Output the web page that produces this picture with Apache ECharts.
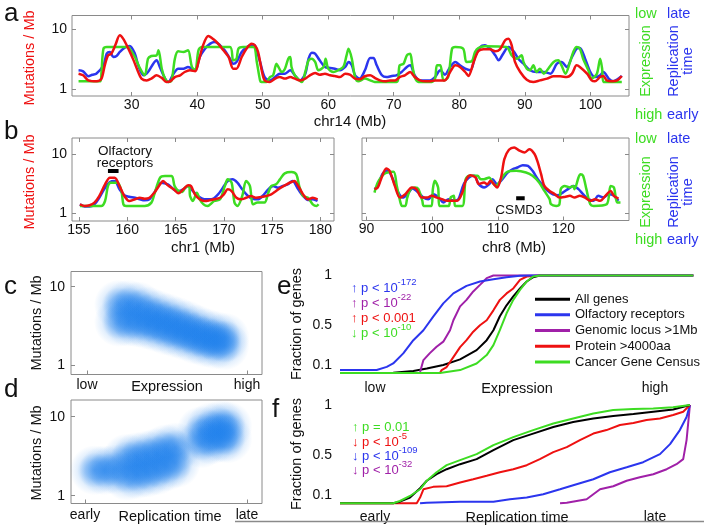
<!DOCTYPE html>
<html><head><meta charset="utf-8">
<script src="https://cdn.jsdelivr.net/npm/echarts@6/dist/echarts.min.js"></script>
<style>html,body{margin:0;padding:0;background:#fff}#c{width:704px;height:532px}</style>
</head><body><div id="c"></div><script>
// ---------------- DATA ----------------
// Panel a: chr14, position (Mb) vs mutations/Mb (expression and replication time drawn on the same scale)
const chr14Red = [[21.9,1.80],[22.6,1.69],[23.4,1.39],[24.7,1.34],[25.4,1.49],[25.9,2.48],[26.4,3.64],[26.9,3.88],[27.5,5.34],[28.2,7.84],[28.7,6.90],[29.5,4.70],[30.3,3.00],[31.0,1.92],[31.5,1.49],[32.3,1.39],[33.0,1.49],[33.8,1.69],[34.6,1.53],[35.3,1.31],[35.9,1.34],[36.6,1.58],[37.4,1.69],[38.1,1.92],[38.9,2.05],[39.7,1.97],[40.2,2.82],[40.9,5.34],[41.7,7.64],[42.5,6.73],[43.2,5.70],[44.0,4.41],[44.8,3.41],[45.5,2.18],[46.0,2.18],[46.8,3.41],[47.6,4.82],[48.3,5.70],[48.8,5.34],[49.3,4.14],[49.8,2.18],[50.3,1.39],[51.1,1.31],[51.9,1.49],[52.6,1.58],[53.4,1.49],[54.2,1.58],[54.9,1.49],[55.7,1.39],[56.5,1.49],[57.2,1.69],[58.0,1.85],[58.7,1.73],[59.5,1.80],[60.3,1.69],[61.0,1.65],[61.8,1.58],[62.6,1.80],[63.3,1.73],[64.1,1.49],[64.8,1.45],[65.6,1.63],[66.4,1.69],[67.1,1.53],[67.9,1.39],[68.7,1.34],[69.4,1.39],[70.2,1.39],[70.9,1.58],[71.7,1.69],[72.5,1.92],[73.2,1.58],[74.0,1.39],[74.8,1.34],[75.5,1.34],[76.3,1.39],[77.1,1.39],[77.8,1.39],[78.6,1.92],[79.4,2.48],[80.1,2.33],[80.9,1.92],[81.4,1.65],[82.2,2.82],[82.9,4.24],[83.7,4.58],[84.7,4.58],[85.5,4.24],[86.2,4.58],[87.0,6.47],[87.5,6.90],[88.0,5.34],[88.5,2.82],[89.3,1.92],[90.3,1.43],[91.3,1.31],[92.3,1.39],[93.4,1.49],[94.4,1.63],[95.4,1.63],[96.4,1.58],[97.2,1.80],[97.9,2.48],[98.4,2.33],[99.5,1.80],[100.2,1.39],[100.7,1.34],[101.5,1.58],[102.0,1.65],[102.5,1.39],[103.3,1.34],[104.1,1.39],[104.8,1.65]];
const chr14Blue = [[21.9,2.05],[22.6,1.97],[23.4,1.63],[24.0,1.73],[24.6,1.80],[25.7,2.48],[26.2,3.88],[26.7,4.14],[27.2,3.41],[27.7,3.55],[28.2,4.14],[29.0,4.94],[29.7,5.21],[30.5,3.88],[31.0,2.48],[31.8,1.69],[32.5,1.92],[33.3,2.64],[33.8,3.00],[34.3,2.33],[35.1,1.49],[35.6,1.31],[36.4,1.80],[37.1,2.18],[37.9,2.18],[38.6,2.33],[39.7,2.05],[40.4,3.41],[41.2,4.70],[42.0,5.70],[42.7,6.07],[43.5,5.34],[44.2,4.41],[45.0,3.20],[45.5,2.64],[46.0,2.82],[46.8,4.14],[47.6,5.01],[48.3,5.48],[48.8,5.34],[49.6,2.82],[50.3,1.58],[51.1,1.39],[51.9,1.58],[52.6,1.80],[53.4,1.80],[54.2,2.05],[54.9,1.69],[55.7,1.39],[56.5,1.80],[57.0,3.20],[57.5,4.03],[58.0,3.88],[58.7,3.00],[59.5,2.33],[60.3,2.24],[61.0,2.18],[61.8,2.05],[62.6,2.33],[63.1,2.82],[63.6,2.48],[64.1,1.69],[64.8,1.49],[65.6,2.05],[66.4,3.29],[66.9,3.29],[67.4,2.48],[68.2,1.69],[68.9,1.58],[69.7,1.65],[70.4,1.69],[71.2,1.92],[72.0,2.33],[72.5,2.48],[73.2,1.69],[74.0,1.39],[74.8,1.39],[75.5,1.39],[76.3,1.58],[77.1,2.05],[77.8,1.73],[78.6,2.33],[79.4,2.82],[80.1,2.48],[80.9,2.18],[81.7,2.05],[82.4,3.41],[83.2,5.01],[83.9,5.34],[84.7,4.70],[85.5,3.64],[86.0,3.00],[86.7,3.88],[87.5,5.01],[88.3,4.24],[89.0,3.20],[89.8,2.64],[90.8,2.05],[91.8,1.92],[92.9,1.92],[93.9,1.80],[94.9,2.64],[95.6,2.82],[96.4,2.33],[97.2,3.41],[97.9,4.70],[98.4,4.82],[99.2,3.20],[100.0,1.92],[100.7,1.58],[101.5,1.69],[102.0,1.92],[102.8,1.49],[103.5,1.34],[104.3,1.49],[104.8,1.65]];
const chr14Green = [[21.9,1.34],[25.2,1.34],[25.4,1.92],[25.7,4.70],[26.2,5.01],[28.7,5.01],[29.5,5.01],[29.7,4.70],[30.5,3.41],[31.3,2.18],[32.0,1.69],[32.5,3.20],[33.0,3.55],[33.8,3.64],[34.1,4.41],[34.6,2.18],[35.1,1.49],[35.6,1.31],[36.1,1.39],[36.6,3.20],[37.1,4.24],[37.9,4.14],[38.6,4.41],[39.2,2.33],[39.7,2.05],[40.2,4.41],[40.7,5.01],[45.0,5.01],[45.5,3.00],[46.0,3.20],[46.3,4.70],[47.0,5.01],[48.6,5.01],[49.1,2.82],[49.6,1.39],[49.8,1.31],[50.6,1.31],[51.1,1.58],[51.6,1.69],[52.1,2.64],[52.4,2.33],[52.9,1.92],[53.4,2.18],[53.9,3.20],[54.2,3.41],[54.4,2.33],[54.9,1.69],[56.0,1.31],[56.5,1.92],[57.0,3.00],[57.5,3.20],[58.0,2.82],[58.5,2.05],[59.3,2.33],[59.6,3.20],[60.0,2.18],[60.8,1.92],[61.5,2.05],[62.3,2.33],[62.8,3.64],[63.1,4.70],[63.6,3.20],[64.1,1.58],[64.6,1.34],[65.6,1.49],[66.4,1.39],[67.1,1.31],[70.4,1.31],[70.9,2.48],[71.5,2.64],[72.0,3.64],[72.5,3.88],[72.8,2.64],[73.2,1.58],[73.8,1.31],[75.8,1.31],[76.3,1.49],[76.6,2.48],[77.1,2.48],[77.6,1.39],[78.3,1.58],[78.9,4.70],[79.4,5.01],[80.6,4.70],[81.1,2.82],[81.9,2.89],[82.4,4.14],[82.9,4.82],[83.9,5.14],[87.2,5.01],[88.0,3.64],[88.8,3.20],[89.5,3.64],[89.8,2.82],[90.3,2.18],[90.8,2.05],[91.3,2.48],[91.8,1.92],[92.3,2.18],[92.9,1.80],[93.4,2.05],[94.4,2.82],[95.1,3.00],[95.6,2.48],[96.2,1.80],[96.9,2.82],[97.4,4.14],[97.9,5.01],[98.4,4.70],[98.9,3.20],[99.7,2.05],[100.2,1.49],[101.0,1.80],[101.5,3.20],[101.8,2.18],[102.0,1.31],[104.8,1.31]];
// Panel b left: chr1
const chr1Red = [[155.1,1.43],[155.6,1.34],[156.1,1.38],[156.6,1.53],[157.1,1.98],[157.7,3.12],[158.2,4.05],[158.7,4.05],[159.2,2.92],[159.7,1.98],[160.2,1.63],[160.8,1.74],[161.3,1.85],[161.8,1.78],[162.3,1.85],[162.8,2.25],[163.4,3.12],[163.7,3.56],[164.2,3.00],[164.8,2.57],[165.3,2.20],[165.8,2.57],[166.3,3.00],[166.6,2.92],[167.0,2.11],[167.5,1.74],[168.0,1.63],[168.5,1.67],[169.0,1.74],[169.6,1.85],[170.0,2.11],[170.4,2.57],[170.8,2.40],[171.3,1.85],[171.8,1.74],[172.3,1.85],[172.8,1.98],[173.3,1.85],[173.9,1.90],[174.4,1.98],[174.9,2.11],[175.4,2.40],[175.9,2.74],[176.5,3.12],[177.0,3.42],[177.3,3.56],[177.7,2.92],[178.2,2.11],[178.7,1.74],[179.2,1.85],[179.7,1.74]];
const chr1Blue = [[155.1,1.43],[155.6,1.31],[156.1,1.31],[156.6,1.43],[157.1,1.85],[157.7,2.74],[158.2,3.42],[158.7,3.56],[159.2,2.57],[159.7,2.03],[160.2,1.93],[160.8,1.85],[161.3,1.74],[161.8,1.67],[162.3,1.74],[162.8,2.25],[163.5,3.33],[164.2,3.12],[164.8,2.57],[165.3,2.40],[165.8,2.57],[166.3,2.92],[166.8,2.40],[167.3,1.98],[168.0,1.74],[168.7,1.74],[169.4,2.11],[169.9,2.74],[170.4,3.56],[170.9,3.79],[171.4,3.33],[171.9,2.57],[172.5,1.98],[173.0,1.78],[173.5,1.74],[174.0,1.98],[174.6,2.57],[175.1,2.92],[175.6,2.74],[176.1,2.92],[176.6,3.12],[177.1,3.56],[177.7,2.57],[178.2,1.98],[178.7,1.69],[179.2,1.74],[179.7,1.63]];
const chr1Green = [[155.1,1.34],[157.3,1.34],[157.7,1.63],[158.0,2.92],[158.3,3.33],[159.0,3.33],[159.4,2.40],[159.6,1.43],[159.9,1.34],[161.8,1.34],[162.5,1.53],[162.8,2.11],[163.4,4.05],[163.9,4.32],[164.6,4.32],[164.9,2.92],[165.3,2.40],[165.7,2.31],[166.0,2.74],[166.4,2.92],[166.5,1.98],[166.8,1.63],[167.2,2.25],[167.5,1.74],[167.9,1.43],[168.3,1.34],[169.0,1.63],[169.6,1.74],[170.1,2.92],[170.4,3.79],[170.8,3.33],[171.1,1.53],[171.4,1.34],[171.9,1.98],[172.3,3.56],[172.7,2.92],[173.0,1.43],[173.5,1.53],[174.2,1.53],[174.6,2.25],[174.9,2.92],[175.4,3.12],[175.8,3.79],[176.3,4.80],[177.0,5.05],[177.5,4.61],[177.8,2.92],[178.2,1.98],[178.7,1.85],[179.2,1.43],[179.6,1.34],[179.8,1.43]];
// Panel b right: chr8
const chr8Red = [[91.2,2.57],[91.7,2.74],[92.2,3.79],[93.0,5.75],[93.5,5.25],[94.3,2.92],[95.1,1.85],[95.9,2.11],[96.9,2.74],[97.6,2.57],[98.4,1.85],[99.2,1.85],[99.9,1.98],[100.7,1.85],[101.5,1.74],[102.3,1.63],[103.0,1.63],[103.8,1.63],[104.6,2.25],[105.1,3.56],[105.8,4.43],[106.6,4.05],[107.1,3.12],[107.9,3.33],[108.4,3.12],[108.9,3.56],[109.4,3.12],[109.9,2.74],[110.5,4.05],[111.0,8.28],[111.7,11.9],[112.5,13.05],[113.3,11.5],[114.1,10.7],[114.8,12.2],[115.6,10.1],[116.1,7.27],[116.6,4.61],[117.1,2.92],[117.9,2.40],[118.7,2.11],[119.4,1.85],[120.2,1.90],[121.0,1.98],[121.7,1.85],[122.5,1.98],[123.3,1.85],[124.1,1.63],[124.8,1.74],[125.6,1.63],[126.4,1.98],[127.2,2.40],[127.7,1.98],[128.4,1.78]];
const chr8Blue = [[91.2,2.57],[91.7,2.92],[92.4,4.61],[93.2,5.25],[93.9,4.05],[94.7,2.40],[95.5,1.85],[96.2,2.11],[97.0,2.64],[97.9,2.25],[98.7,1.85],[99.4,1.74],[100.2,2.11],[101.0,1.85],[101.7,1.53],[102.5,1.74],[103.3,1.63],[104.0,1.74],[104.8,3.12],[105.6,4.05],[106.4,4.32],[107.1,3.12],[107.9,2.74],[108.7,3.12],[109.2,3.79],[109.9,3.12],[110.7,3.79],[111.5,4.92],[112.3,5.60],[113.0,5.98],[113.8,6.55],[114.6,6.38],[115.3,5.25],[116.1,3.79],[116.9,2.92],[117.6,2.40],[118.4,2.11],[119.2,2.03],[119.9,2.25],[120.7,2.57],[121.5,2.92],[122.3,2.57],[123.0,2.11],[123.8,1.74],[124.6,1.63],[125.3,1.98],[126.1,1.85],[126.9,2.11],[127.6,2.03],[128.4,1.63]];
const chr8Green = [[91.2,2.25],[91.7,3.33],[92.4,4.32],[92.9,4.80],[94.1,5.05],[94.6,2.92],[95.1,1.63],[95.4,1.34],[95.9,1.34],[96.2,1.85],[96.7,2.57],[97.4,2.74],[97.9,2.57],[98.5,1.63],[98.7,1.34],[99.9,1.34],[100.1,2.57],[100.4,3.56],[100.9,2.74],[101.1,1.34],[102.5,1.34],[102.8,1.85],[103.3,1.98],[103.5,1.34],[104.6,1.34],[105.1,3.79],[105.6,4.32],[106.9,4.32],[107.4,3.79],[107.9,3.79],[108.7,4.05],[109.2,3.33],[109.7,2.92],[110.2,3.33],[111.3,4.92],[112.8,5.25],[114.3,4.92],[115.3,4.32],[116.3,3.33],[117.1,2.40],[117.9,1.74],[118.1,1.43],[118.9,1.34],[119.4,1.43],[119.6,2.57],[120.2,2.92],[121.0,2.74],[121.5,2.92],[121.7,2.57],[122.3,4.05],[122.6,4.61],[123.0,4.32],[123.5,2.57],[124.1,1.43],[124.6,1.34],[126.6,1.43],[127.2,2.92],[127.7,2.74],[128.2,1.53],[128.7,1.53]];
const olfactoryBar = [158.0, 159.1];
const csmd3Bar = [112.8, 114.1];
const chr14Ticks = [30,40,50,60,70,80,90,100];
const chr1Ticks = [155,160,165,170,175,180];
const chr8Ticks = [90,100,110,120];
// Panels c, d: density ridges (relative rank 0=low/early .. 1=high/late, mutations/Mb)
const exprDensity = [[0.20,5.9],[0.26,5.9],[0.32,5.6],[0.38,4.84],[0.44,4.37],[0.50,3.98],[0.56,3.59],[0.62,3.24],[0.68,2.85],[0.74,2.57],[0.80,2.37],[0.86,2.24],
  [0.20,3.55],[0.26,3.55],[0.32,3.47],[0.38,3.27],[0.44,3.02],[0.50,2.75],[0.56,2.54],[0.62,2.34],[0.68,2.11],[0.74,1.95],[0.80,1.84],[0.86,1.78]];
const repDensity = [[0.06,2.1],[0.12,2.1],[0.18,2.15],
  [0.26,2.95],[0.32,3.09],[0.38,3.24],[0.44,3.47],[0.50,3.89],[0.56,4.1],
  [0.26,1.78],[0.32,1.87],[0.38,1.95],[0.44,2.09],[0.50,2.34],[0.56,2.57],
  [0.72,6.6],[0.78,7.4],[0.84,7.8],[0.88,7.6],
  [0.72,4.6],[0.78,5.1],[0.84,5.4],[0.88,5.3]];
// Panel e: cumulative fraction of genes vs expression rank
const exprAll = [[-0.125,0.02],[0.065,0.022],[0.137,0.04],[0.185,0.066],[0.244,0.10],[0.304,0.157],[0.363,0.25],[0.399,0.35],[0.423,0.45],[0.446,0.59],[0.470,0.70],[0.494,0.79],[0.518,0.87],[0.542,0.94],[0.565,0.983],[0.589,1.0],[1.137,1.0]];
const exprOlf = [[-0.125,0.05],[0.006,0.05],[0.042,0.082],[0.065,0.116],[0.101,0.217],[0.137,0.35],[0.173,0.45],[0.208,0.587],[0.244,0.72],[0.280,0.82],[0.327,0.896],[0.375,0.94],[0.423,0.963],[0.470,0.983],[0.518,0.997],[0.565,1.0],[1.137,1.0]];
const exprLocus = [[0.161,0.03],[0.161,0.05],[0.173,0.15],[0.196,0.22],[0.220,0.284],[0.244,0.335],[0.268,0.45],[0.280,0.55],[0.304,0.69],[0.327,0.755],[0.351,0.84],[0.375,0.906],[0.399,0.973],[0.423,1.0],[1.137,1.0]];
const exprProt = [[-0.125,0.02],[0.232,0.02],[0.238,0.049],[0.256,0.08],[0.280,0.18],[0.304,0.28],[0.327,0.35],[0.351,0.435],[0.375,0.50],[0.399,0.55],[0.423,0.65],[0.446,0.755],[0.470,0.82],[0.494,0.87],[0.518,0.956],[0.542,0.99],[0.589,1.0],[1.137,1.0]];
const exprCGC = [[-0.125,0.02],[0.232,0.02],[0.304,0.049],[0.363,0.116],[0.399,0.20],[0.423,0.30],[0.446,0.45],[0.470,0.62],[0.494,0.755],[0.518,0.855],[0.542,0.94],[0.565,0.99],[0.589,1.0],[1.137,1.0]];
// Panel f: cumulative fraction of genes vs replication time
const repAll = [[-0.125,0.02],[0.065,0.02],[0.089,0.036],[0.125,0.077],[0.161,0.17],[0.185,0.245],[0.220,0.31],[0.256,0.36],[0.304,0.41],[0.363,0.46],[0.423,0.55],[0.494,0.65],[0.565,0.715],[0.637,0.78],[0.708,0.83],[0.780,0.866],[0.851,0.89],[0.923,0.91],[0.994,0.933],[1.065,0.956],[1.125,1.0]];
const repOlf = [[0.161,0.02],[0.185,0.026],[0.304,0.036],[0.423,0.036],[0.482,0.06],[0.542,0.077],[0.601,0.11],[0.661,0.16],[0.720,0.21],[0.780,0.26],[0.839,0.33],[0.899,0.38],[0.958,0.43],[1.018,0.51],[1.054,0.61],[1.089,0.75],[1.113,0.88],[1.125,1.0]];
const repLocus = [[0.661,0.02],[0.685,0.026],[0.756,0.06],[0.780,0.11],[0.804,0.16],[0.851,0.19],[0.899,0.245],[0.946,0.28],[0.994,0.31],[1.042,0.36],[1.077,0.41],[1.101,0.46],[1.113,0.65],[1.125,1.0]];
const repProt = [[-0.125,0.02],[0.149,0.02],[0.161,0.077],[0.173,0.16],[0.208,0.184],[0.256,0.19],[0.304,0.228],[0.351,0.26],[0.399,0.295],[0.446,0.33],[0.494,0.36],[0.542,0.40],[0.589,0.46],[0.637,0.53],[0.685,0.58],[0.732,0.65],[0.780,0.715],[0.827,0.75],[0.875,0.80],[0.923,0.82],[0.970,0.85],[1.018,0.866],[1.065,0.90],[1.101,0.933],[1.125,1.0]];
const repCGC = [[-0.125,0.02],[0.065,0.02],[0.089,0.043],[0.125,0.093],[0.161,0.16],[0.185,0.245],[0.220,0.33],[0.256,0.40],[0.304,0.45],[0.363,0.51],[0.423,0.60],[0.494,0.68],[0.565,0.75],[0.637,0.815],[0.708,0.866],[0.780,0.916],[0.851,0.95],[0.923,0.96],[0.994,0.966],[1.065,0.977],[1.125,1.0]];
const fracTicks = [0.1, 0.5, 1];
const legendNames = ['All genes','Olfactory receptors','Genomic locus >1Mb','Protein >4000aa','Cancer Gene Census'];

// ---------------- CHART ----------------
const FONT = "'Liberation Sans', Arial, Helvetica, sans-serif";
const C = {red:'#ee1111', blue:'#2b35ee', green:'#3ddc22', black:'#000000', purple:'#a020a8', frame:'#8a8a8a'};
const lg = arr => arr.map(p => [p[0], Math.log10(p[1])]);
const chart = echarts.init(document.getElementById('c'));

const tickStyle = vals => ({show:true, inside:true, length:4, customValues:vals, lineStyle:{color:C.frame, width:1}});
const lbl = (vals, margin, fmt) => ({show:true, customValues:vals, margin:margin, fontSize:14, color:'#111', fontFamily:FONT, formatter:fmt});
function ax(grid, min, max, pos, ticks, labels, margin, fmt) {
  return {gridIndex:grid, type:'value', position:pos, min:min, max:max,
    axisLine:{show:false, onZero:false}, splitLine:{show:false},
    axisTick: ticks ? tickStyle(ticks) : {show:false},
    axisLabel: labels ? lbl(labels, margin, fmt) : {show:false}};
}
const logFmt = v => (Math.abs(v) < 1e-9 ? '1' : '10');
const lowHigh = v => (v < 0.5 ? 'low' : 'high');
const earlyLate = v => (v < 0.5 ? 'early' : 'late');

const frameGrid = (l,t,w,h) => ({left:l, top:t, width:w, height:h, show:true, borderColor:C.frame, borderWidth:1, backgroundColor:'transparent'});
const grids = [
  frameGrid(72, 15.5, 557, 80.5),   // a
  frameGrid(72, 138, 262, 83),      // b left
  frameGrid(362, 138, 267, 82.5),   // b right
  frameGrid(71, 271.5, 191, 103),   // c
  frameGrid(71, 400, 191, 103.5),   // d
  {left:340, top:275.5, width:353, height:97.5, show:false}, // e
  {left:340, top:405, width:353, height:98.3, show:false}     // f
];

const xAxes = [
  ax(0, 20.9, 105.9, 'bottom', chr14Ticks, chr14Ticks, 2),
  ax(0, 20.9, 105.9, 'top', chr14Ticks, null),
  ax(1, 154.28, 181.4, 'bottom', chr1Ticks, chr1Ticks, 2),
  ax(1, 154.28, 181.4, 'top', chr1Ticks, null),
  ax(2, 89.3, 130.0, 'bottom', chr8Ticks, chr8Ticks, 2),
  ax(2, 89.3, 130.0, 'top', chr8Ticks, null),
  ax(3, -0.1, 1.094, 'bottom', [0,1], [0,1], 4, lowHigh),
  ax(4, -0.0864, 1.093, 'bottom', [0,1], [0,1], 5, earlyLate),
  ax(5, -0.125, 1.136, 'bottom', null, [0,1], 8, lowHigh),
  ax(6, -0.125, 1.136, 'bottom', null, [0,1], 7, earlyLate)
];
const yAxes = [
  ax(0, -0.117, 1.225, 'left', [0,1], [0,1], 5, logFmt),
  ax(0, -0.117, 1.225, 'right', [0,1], null),
  ax(1, -0.127, 1.28, 'left', [0,1], [0,1], 5, logFmt),
  ax(1, -0.127, 1.28, 'right', [0,1], null),
  ax(2, -0.12, 1.275, 'left', [0,1], null),
  ax(2, -0.12, 1.275, 'right', [0,1], null),
  ax(3, -0.121, 1.194, 'left', [0,1], [0,1], 6, logFmt),
  ax(4, -0.099, 1.211, 'left', [0,1], [0,1], 6, logFmt),
  ax(5, 0.02, 1.0, 'left', null, fracTicks, 8, v => String(v)),
  ax(6, 0.02, 1.0, 'left', null, fracTicks, 8, v => String(v))
];

const series = [];
function track(xi, yi, red, blue, green) {
  [[blue, C.blue],[green, C.green],[red, C.red]].forEach(([d, col]) => {
    series.push({type:'line', xAxisIndex:xi, yAxisIndex:yi, data:lg(d), showSymbol:false, smooth:0.3,
      lineStyle:{color:col, width:2.5}, itemStyle:{color:col}, silent:true});
  });
}
track(0, 0, chr14Red, chr14Blue, chr14Green);
track(2, 2, chr1Red, chr1Blue, chr1Green);
track(4, 4, chr8Red, chr8Blue, chr8Green);
series.push({type:'line', xAxisIndex:2, yAxisIndex:2, data:olfactoryBar.map(x => [x, Math.log10(5.25)]), showSymbol:false, lineStyle:{color:'#000', width:4}, silent:true});
series.push({type:'line', xAxisIndex:4, yAxisIndex:4, data:csmd3Bar.map(x => [x, Math.log10(1.81)]), showSymbol:false, lineStyle:{color:'#000', width:4}, silent:true});

const blobFill = {type:'radial', x:0.5, y:0.5, r:0.5, colorStops:[
  {offset:0, color:'rgba(30,128,236,0.6)'}, {offset:0.35, color:'rgba(30,128,236,0.45)'},
  {offset:0.7, color:'rgba(30,128,236,0.12)'}, {offset:1, color:'rgba(30,128,236,0)'}]};
function blob(xi, yi, d) {
  series.push({type:'scatter', xAxisIndex:xi, yAxisIndex:yi, data:lg(d), silent:true,
    symbolSize:50, itemStyle:{color:blobFill, opacity:1}});
}
blob(6, 6, exprDensity);
blob(7, 7, repDensity);

function cdf(xi, yi, sets) {
  sets.forEach(([name, d, col]) => {
    series.push({type:'line', name:name, xAxisIndex:xi, yAxisIndex:yi, data:d, showSymbol:false, clip:false,
      lineStyle:{color:col, width:2}, itemStyle:{color:col}, silent:true});
  });
}
cdf(8, 8, [[legendNames[0], exprAll, C.black],[legendNames[2], exprLocus, C.purple],[legendNames[3], exprProt, C.red],[legendNames[1], exprOlf, C.blue],[legendNames[4], exprCGC, C.green]]);
cdf(9, 9, [[legendNames[2], repLocus, C.purple],[legendNames[1], repOlf, C.blue],[legendNames[3], repProt, C.red],[legendNames[0], repAll, C.black],[legendNames[4], repCGC, C.green]]);

// ---------------- TEXT ----------------
const G = [];
function T(x, y, text, o) {
  o = o || {};
  G.push({type:'text', x:x, y:y, rotation:o.rot || 0, silent:true, z:10,
    style:{text:text, fill:o.color || '#111', font:(o.weight||'normal') + ' ' + (o.size||14.5) + 'px ' + FONT,
      align:o.align || 'center', verticalAlign:o.va || 'middle', lineHeight:o.lh, rich:o.rich}});
}
const R = Math.PI/2;
// panel letters
T(4, 14, 'a', {size:26, align:'left'});
T(4, 132, 'b', {size:26, align:'left'});
T(4, 287, 'c', {size:26, align:'left'});
T(4, 390, 'd', {size:26, align:'left'});
T(277, 287, 'e', {size:26, align:'left'});
T(272, 410, 'f', {size:26, align:'left'});
// y titles
T(30, 58, 'Mutations / Mb', {rot:R, color:C.red});
T(30, 182, 'Mutations / Mb', {rot:R, color:C.red});
T(37, 323, 'Mutations / Mb', {rot:R});
T(37, 453, 'Mutations / Mb', {rot:R});
T(297, 324, 'Fraction of genes', {rot:R});
T(297, 454, 'Fraction of genes', {rot:R});
// x titles
T(350, 122, 'chr14 (Mb)', {size:15});
T(203, 248, 'chr1 (Mb)', {size:15});
T(514, 248, 'chr8 (Mb)', {size:15});
T(167, 387, 'Expression');
T(170, 517, 'Replication time');
T(517, 389, 'Expression');
T(517, 518, 'Replication time');
// right-hand scales of a and b
[[13.5, 115, 61], [139, 240, 192]].forEach(([yt, yb, ym]) => {
  T(635, yt, 'low', {color:C.green, align:'left'});
  T(667, yt, 'late', {color:C.blue, align:'left'});
  T(635, yb, 'high', {color:C.green, align:'left'});
  T(667, yb, 'early', {color:C.blue, align:'left'});
  T(645.5, ym, 'Expression', {rot:R, color:C.green});
  T(680.5, ym, 'Replication\ntime', {rot:R, color:C.blue, lh:14});
});
// annotations
T(125, 151, 'Olfactory', {size:13.5});
T(125, 163, 'receptors', {size:13.5});
T(519, 210, 'CSMD3', {size:13.5});
// p-values
function P(x, y, main, sup, col) {
  T(x, y, '{a|' + main + '}' + (sup ? '{s|' + sup + '}' : ''), {align:'left', color:col,
    rich:{a:{fill:col, fontSize:13, fontFamily:FONT, lineHeight:18, verticalAlign:'bottom'},
          s:{fill:col, fontSize:9.5, fontFamily:FONT, lineHeight:18, verticalAlign:'top'}}});
}
P(351, 286, '↑ p < 10', '-172', C.blue);
P(351, 301, '↑ p < 10', '-22', C.purple);
P(351, 316, '↑ p < 0.001', '', C.red);
P(351, 331, '↓ p < 10', '-10', C.green);
P(352, 425, '↑ p = 0.01', '', C.green);
P(352, 440, '↓ p < 10', '-5', C.red);
P(352, 454, '↓ p < 10', '-109', C.blue);
P(352, 468, '↓ p < 10', '-32', C.purple);
// frame rule at the bottom
G.push({type:'line', silent:true, z:1, shape:{x1:235, y1:521.5, x2:704, y2:521.5}, style:{stroke:'#8a8a8a', lineWidth:1.5}});

chart.setOption({
  animation:false,
  backgroundColor:'#ffffff',
  grid:grids, xAxis:xAxes, yAxis:yAxes, series:series, graphic:G,
  legend:{show:true, orient:'vertical', left:535, top:291.5, padding:0, itemGap:0.4, itemWidth:35, itemHeight:3,
    icon:'rect', selectedMode:false, data:[
      {name:legendNames[0], itemStyle:{color:C.black}},
      {name:legendNames[1], itemStyle:{color:C.blue}},
      {name:legendNames[2], itemStyle:{color:C.purple}},
      {name:legendNames[3], itemStyle:{color:C.red}},
      {name:legendNames[4], itemStyle:{color:C.green}}],
    textStyle:{fontSize:13, fontFamily:FONT, color:'#111', lineHeight:15.3}}
});
</script></body></html>
